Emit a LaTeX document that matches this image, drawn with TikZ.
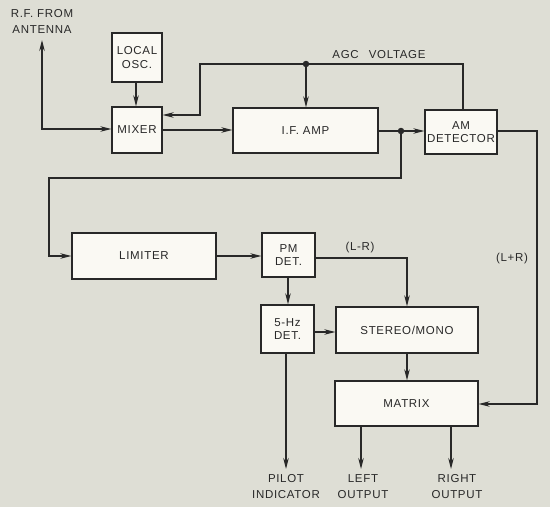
\documentclass[tikz,border=0pt]{standalone}
\usepackage{fontspec}
\setmainfont{Liberation Sans}[LetterSpace=6]
\usetikzlibrary{arrows.meta}
\definecolor{bg}{RGB}{222,222,213}
\definecolor{boxfill}{RGB}{250,249,243}
\definecolor{ink}{RGB}{40,40,40}
\tikzset{
  tip/.tip={Stealth[length=11pt,width=5.5pt]},
  blk/.style={draw=ink, line width=1.4pt, fill=boxfill, inner sep=0pt, align=center, font=\fontsize{11.5}{13.5}\selectfont, text=ink},
  conn/.style={draw=ink, line width=1.2pt, -tip},
  lbl/.style={align=center, font=\fontsize{11.5}{16}\selectfont, text=ink, inner sep=0pt},
  dot/.style={circle, fill=ink, inner sep=0pt, minimum size=6.5pt}
}
\begin{document}
\begin{tikzpicture}[x=1pt,y=-1pt]
\fill[bg] (0,0) rectangle (550,507);
\useasboundingbox (0,0) rectangle (550,507);
% blocks
\node[blk, minimum width=50pt, minimum height=49pt] (osc) at (137,57.5) {LOCAL\\OSC.};
\node[blk, minimum width=50pt, minimum height=46pt] (mixer) at (137,130) {MIXER};
\node[blk, minimum width=145pt, minimum height=45pt] (ifamp) at (305.5,130.5) {I.F. AMP};
\node[blk, minimum width=72pt, minimum height=44pt] (amdet) at (461,132) {AM\\DETECTOR};
\node[blk, minimum width=144pt, minimum height=46pt] (limiter) at (144,256) {LIMITER};
\node[blk, minimum width=53pt, minimum height=44pt] (pmdet) at (288.5,255) {PM\\DET.};
\node[blk, minimum width=53pt, minimum height=48pt] (hzdet) at (287.5,329) {5-Hz\\DET.};
\node[blk, minimum width=142pt, minimum height=46pt] (stereo) at (407,330) {STEREO/MONO};
\node[blk, minimum width=143pt, minimum height=45pt] (matrix) at (406.5,403.5) {MATRIX};
% labels
\node[lbl] (rf) at (42,21) {R.F. FROM\\ANTENNA};
\node[lbl] (agc) at (379,55) {AGC\hspace{10pt}VOLTAGE};
\node[lbl] (lmr) at (360,248) {(L-R)};
\node[lbl] (lpr) at (512,259) {(L+R)};
\node[lbl] (pilot) at (286,487) {PILOT\\INDICATOR};
\node[lbl] (left) at (363,487) {LEFT\\OUTPUT};
\node[lbl] (right) at (457,487) {RIGHT\\OUTPUT};
% coordinates
\coordinate (ant) at (42,40);
\coordinate (agcdot) at (306,64);
\coordinate (ifdot) at (401,131);
\coordinate (pilotend) at (286,469);
\coordinate (leftend) at (361,469);
\coordinate (rightend) at (451,469);
% connectors
\draw[conn, tip-tip] (ant) |- (mixer.west |- 0,129);
\draw[conn] (osc.south -| 136,0) -- (mixer.north -| 136,0);
\draw[conn] (mixer.east |- 0,130) -- (ifamp.west |- 0,130);
\draw[conn] (amdet.north -| 463,0) |- (200,64) |- (mixer.east |- 0,115);
\node[dot] (d1) at (agcdot) {};
\draw[conn] (d1.center) -- (ifamp.north -| d1);
\draw[conn] (ifamp.east |- ifdot) -- (amdet.west |- ifdot);
\node[dot] (d2) at (ifdot) {};
\draw[conn] (d2.center) |- (49,178) |- (limiter.west);
\draw[conn] (amdet.east |- 0,131) -| (537,404) -- (matrix.east |- 0,404);
\draw[conn] (limiter.east) -- (pmdet.west |- limiter.east);
\draw[conn] (pmdet.east |- 0,258) -| (stereo.north);
\draw[conn] (pmdet.south -| 288,0) -- (hzdet.north -| 288,0);
\draw[conn] (hzdet.east |- 0,332) -- (stereo.west |- 0,332);
\draw[conn] (stereo.south) -- (matrix.north -| stereo.south);
\draw[conn] (hzdet.south -| pilotend) -- (pilotend);
\draw[conn] (matrix.south -| leftend) -- (leftend);
\draw[conn] (matrix.south -| rightend) -- (rightend);
\end{tikzpicture}
\end{document}
